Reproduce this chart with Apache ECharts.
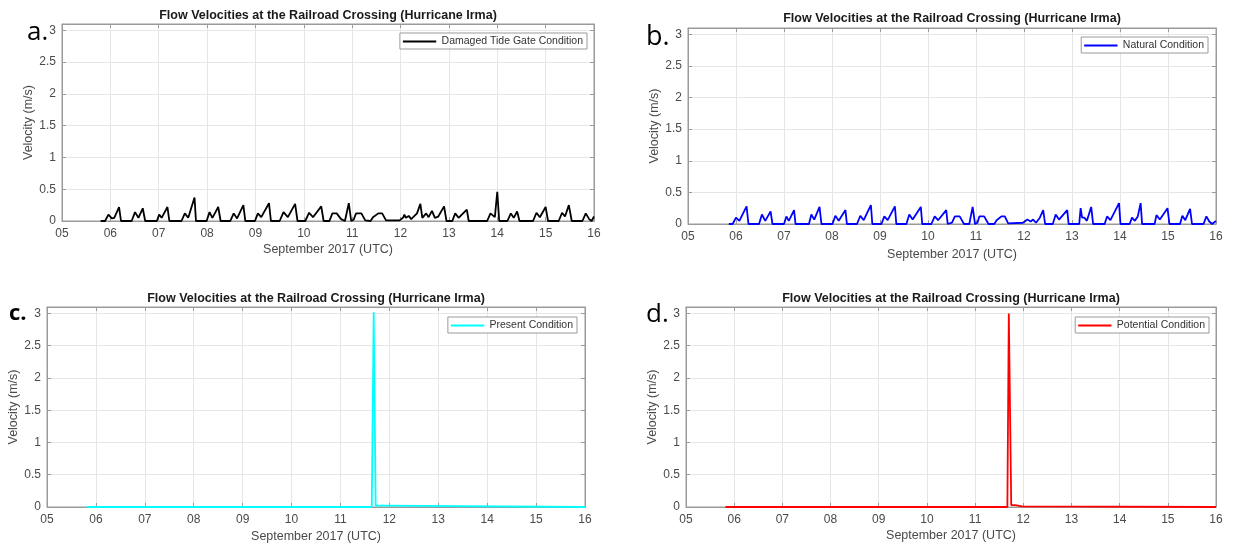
<!DOCTYPE html>
<html>
<head>
<meta charset="utf-8">
<script src="https://cdn.jsdelivr.net/npm/echarts@6/dist/echarts.min.js"></script>
<style>
html,body{margin:0;padding:0;background:#fff;}
#chart{width:1233px;height:548px;}
</style>
</head>
<body>
<div id="chart"></div>
<script>
// ---- DATA (x = day of September 2017, UTC; y = velocity m/s) ----
const chartTitle = 'Flow Velocities at the Railroad Crossing (Hurricane Irma)';
const xAxisTitle = 'September 2017 (UTC)';
const yAxisTitle = 'Velocity (m/s)';
const panelLetters = ['a.', 'b.', 'c.', 'd.'];
const seriesNames = ['Damaged Tide Gate Condition', 'Natural Condition', 'Present Condition', 'Potential Condition'];
const dayTicks = [5, 6, 7, 8, 9, 10, 11, 12, 13, 14, 15, 16];
const velocityTicks = [0, 0.5, 1, 1.5, 2, 2.5, 3];

const damagedTideGate = [
  [5.80,0],[5.89,0],[5.96,0.10],[6.03,0.04],[6.08,0.05],[6.18,0.22],[6.22,0],
  [6.44,0],[6.51,0.14],[6.58,0.05],[6.67,0.20],[6.72,0],
  [6.96,0],[7.01,0.10],[7.06,0.05],[7.18,0.22],[7.22,0],
  [7.47,0],[7.54,0.12],[7.61,0.05],[7.74,0.37],[7.77,0],
  [7.99,0],[8.05,0.14],[8.11,0.05],[8.23,0.22],[8.28,0],
  [8.48,0],[8.55,0.12],[8.62,0.04],[8.75,0.25],[8.79,0],
  [8.99,0],[9.05,0.12],[9.12,0.06],[9.28,0.28],[9.32,0],
  [9.50,0],[9.58,0.14],[9.67,0.06],[9.82,0.27],[9.87,0],
  [10.03,0],[10.11,0.13],[10.19,0.06],[10.36,0.23],[10.41,0],
  [10.53,0],[10.59,0.12],[10.68,0.12],[10.77,0.03],[10.85,0],[10.93,0.28],[10.98,0],
  [11.03,0.02],[11.08,0.12],[11.19,0.12],[11.27,0.01],
  [11.38,0],[11.43,0.06],[11.47,0.03],[11.54,0.12],[11.62,0.12],[11.70,0.01],
  [11.80,0.01],[11.98,0.01],[12.05,0.05],[12.08,0.10],[12.11,0.05],[12.17,0.08],[12.22,0.03],
  [12.34,0.12],[12.41,0.27],[12.45,0.05],[12.49,0.02],[12.53,0.12],[12.58,0.06],[12.65,0.16],[12.71,0.05],
  [12.78,0.07],[12.90,0.23],[12.95,0],
  [13.07,0],[13.13,0.12],[13.20,0.05],[13.37,0.18],[13.41,0],
  [13.79,0],[13.86,0.12],[13.95,0.06],[14.00,0.46],[14.04,0],
  [14.21,0],[14.28,0.12],[14.34,0.05],[14.41,0.15],[14.46,0],
  [14.74,0],[14.81,0.13],[14.88,0.06],[15.00,0.22],[15.05,0],
  [15.27,0],[15.34,0.13],[15.40,0.07],[15.48,0.25],[15.54,0],
  [15.76,0],[15.83,0.12],[15.90,0.03],[15.95,0],[16.00,0.07]
];

const naturalCondition = [
  [5.85,0],[5.93,0],[6.00,0.10],[6.07,0.05],[6.22,0.28],[6.26,0],
  [6.48,0],[6.54,0.15],[6.61,0.05],[6.72,0.20],[6.76,0],
  [7.00,0],[7.05,0.12],[7.10,0.05],[7.21,0.22],[7.24,0],
  [7.52,0],[7.57,0.15],[7.63,0.07],[7.74,0.27],[7.78,0],
  [8.01,0],[8.07,0.13],[8.14,0.05],[8.28,0.22],[8.31,0],
  [8.52,0],[8.59,0.13],[8.66,0.06],[8.81,0.30],[8.84,0],
  [9.03,0],[9.09,0.12],[9.16,0.06],[9.31,0.28],[9.34,0],
  [9.55,0],[9.61,0.15],[9.68,0.07],[9.85,0.27],[9.88,0],
  [10.07,0],[10.14,0.12],[10.21,0.06],[10.38,0.22],[10.41,0],
  [10.50,0.02],[10.56,0.12],[10.66,0.12],[10.75,0],[10.86,0],[10.93,0.27],[10.98,0],
  [11.03,0.02],[11.07,0.12],[11.17,0.12],[11.26,0],
  [11.38,0],[11.43,0.06],[11.47,0.03],[11.53,0.12],[11.60,0.12],[11.67,0.01],
  [11.98,0.02],[12.07,0.07],[12.10,0.10],[12.14,0.04],[12.19,0.07],[12.25,0.02],
  [12.33,0.10],[12.40,0.22],[12.44,0],
  [12.60,0],[12.66,0.15],[12.73,0.07],[12.90,0.22],[12.93,0],
  [13.15,0],[13.18,0.25],[13.21,0.10],[13.26,0.10],[13.31,0.05],[13.40,0.27],[13.44,0],
  [13.68,0],[13.73,0.12],[13.80,0.06],[13.98,0.33],[14.01,0],
  [14.20,0],[14.25,0.10],[14.31,0.05],[14.37,0.12],[14.43,0.33],[14.46,0],
  [14.72,0],[14.76,0.14],[14.83,0.07],[14.99,0.25],[15.03,0],
  [15.25,0],[15.30,0.13],[15.36,0.06],[15.46,0.24],[15.50,0],
  [15.74,0],[15.80,0.12],[15.86,0.04],[15.92,0],[16.00,0.05]
];

const presentCondition = [
  [5.81,0],[11.64,0],[11.68,3.02],[11.72,0.02],[11.85,0.02],[11.87,0],[16.00,0]
];

const potentialCondition = [
  [5.82,0],[11.67,0],[11.70,3.00],[11.75,0.03],[11.83,0.03],[11.86,0.01],[11.98,0.01],[12.00,0],[16.00,0]
];

const seriesData = [damagedTideGate, naturalCondition, presentCondition, potentialCondition];
const seriesColors = ['#000000', '#0000ff', '#00ffff', '#ff0000'];

// ---- LAYOUT (pixels) ----
const grids = [
  {left: 62, top: 24, width: 532, height: 197},
  {left: 688, top: 28, width: 528, height: 196},
  {left: 47, top: 307, width: 538, height: 200},
  {left: 686, top: 307, width: 530, height: 200}
];
const titleY = [16, 19, 299, 299];
const xNameGap = [22, 24, 23, 22];
const yNameGap = [19, 21, 21, 21];
const legendPos = [
  {right: 646, top: 33},
  {right: 25, top: 37},
  {right: 656, top: 317},
  {right: 24, top: 317}
];
const letterPos = [
  {x: 27, y: 46, size: 26, weight: 'normal'},
  {x: 646, y: 51, size: 27, weight: 'normal'},
  {x: 9, y: 325, size: 22, weight: 'bold'},
  {x: 646, y: 328, size: 26, weight: 'normal'}
];

const FONT = '"Liberation Sans", Arial, Helvetica, sans-serif';
const axisGray = '#9a9a9a';
const labelGray = '#4a4a4a';
const gridGray = '#e6e6e6';

const xMin = dayTicks[0], xMax = dayTicks[dayTicks.length - 1];
const yMin = velocityTicks[0], yMax = 3.1;

const xAxes = [], yAxes = [], series = [], legends = [], graphics = [];
grids.forEach((g, i) => {
  xAxes.push({
    type: 'value', gridIndex: i, position: 'bottom',
    min: xMin, max: xMax, interval: 1,
    name: xAxisTitle, nameLocation: 'middle', nameGap: xNameGap[i],
    nameTextStyle: {fontFamily: FONT, fontSize: 12.5, color: labelGray},
    axisLine: {show: true, onZero: false, lineStyle: {color: axisGray, width: 1}},
    axisTick: {show: true, inside: true, length: 4, lineStyle: {color: axisGray}},
    axisLabel: {fontFamily: FONT, fontSize: 12, color: labelGray, margin: 7,
      formatter: v => String(Math.round(v)).padStart(2, '0')},
    splitLine: {show: true, lineStyle: {color: gridGray, width: 1}}
  });
  xAxes.push({
    type: 'value', gridIndex: i, position: 'top',
    min: xMin, max: xMax, interval: 1,
    axisLine: {show: true, onZero: false, lineStyle: {color: axisGray, width: 1}},
    axisTick: {show: true, inside: true, length: 4, lineStyle: {color: axisGray}},
    axisLabel: {show: false}, splitLine: {show: false}
  });
  yAxes.push({
    type: 'value', gridIndex: i, position: 'left',
    min: yMin, max: yMax, interval: 0.5,
    name: yAxisTitle, nameLocation: 'middle', nameGap: yNameGap[i],
    nameTextStyle: {fontFamily: FONT, fontSize: 12.5, color: labelGray},
    axisLine: {show: true, onZero: false, lineStyle: {color: axisGray, width: 1}},
    axisTick: {show: true, inside: true, length: 4, lineStyle: {color: axisGray}},
    axisLabel: {fontFamily: FONT, fontSize: 12, color: labelGray, margin: 6, showMaxLabel: false},
    splitLine: {show: true, lineStyle: {color: gridGray, width: 1}}
  });
  yAxes.push({
    type: 'value', gridIndex: i, position: 'right',
    min: yMin, max: yMax, interval: 0.5,
    axisLine: {show: true, onZero: false, lineStyle: {color: axisGray, width: 1}},
    axisTick: {show: true, inside: true, length: 4, lineStyle: {color: axisGray}},
    axisLabel: {show: false}, splitLine: {show: false}
  });
  series.push({
    name: seriesNames[i], type: 'line',
    xAxisIndex: 2 * i, yAxisIndex: 2 * i,
    data: seriesData[i],
    showSymbol: false, symbol: 'none',
    lineStyle: {color: seriesColors[i], width: 1.8},
    itemStyle: {color: seriesColors[i]},
    clip: true, animation: false, z: 3
  });
  legends.push(Object.assign({
    data: [{name: seriesNames[i], icon: 'path://M0,0 L100,0 L100,6 L0,6 Z'}],
    orient: 'horizontal',
    backgroundColor: '#ffffff', borderColor: '#9a9a9a', borderWidth: 1,
    padding: [3, 4, 2, 3], itemWidth: 34, itemHeight: 2, itemGap: 4,
    textStyle: {fontFamily: FONT, fontSize: 10.5, color: '#333'},
    selectedMode: false
  }, legendPos[i]));
  graphics.push({
    type: 'text', z: 10,
    style: {
      x: g.left + g.width / 2, y: titleY[i], text: chartTitle,
      font: 'bold 12.5px ' + FONT, fill: '#1a1a1a',
      textAlign: 'center', textVerticalAlign: 'middle'
    }
  });
  const lp = letterPos[i];
  graphics.push({
    type: 'text', z: 10,
    style: {
      x: lp.x, y: lp.y, text: panelLetters[i],
      font: lp.weight + ' ' + lp.size + 'px "Open Sans", "Liberation Sans", sans-serif', fill: '#000',
      textAlign: 'left', textVerticalAlign: 'bottom'
    }
  });
});

const chart = echarts.init(document.getElementById('chart'), null, {renderer: 'canvas'});
chart.setOption({
  animation: false,
  backgroundColor: '#ffffff',
  grid: grids.map(g => Object.assign({show: true, backgroundColor: '#fff', borderColor: axisGray, borderWidth: 1, containLabel: false}, g)),
  xAxis: xAxes,
  yAxis: yAxes,
  legend: legends,
  series: series,
  graphic: graphics
});
</script>
</body>
</html>
